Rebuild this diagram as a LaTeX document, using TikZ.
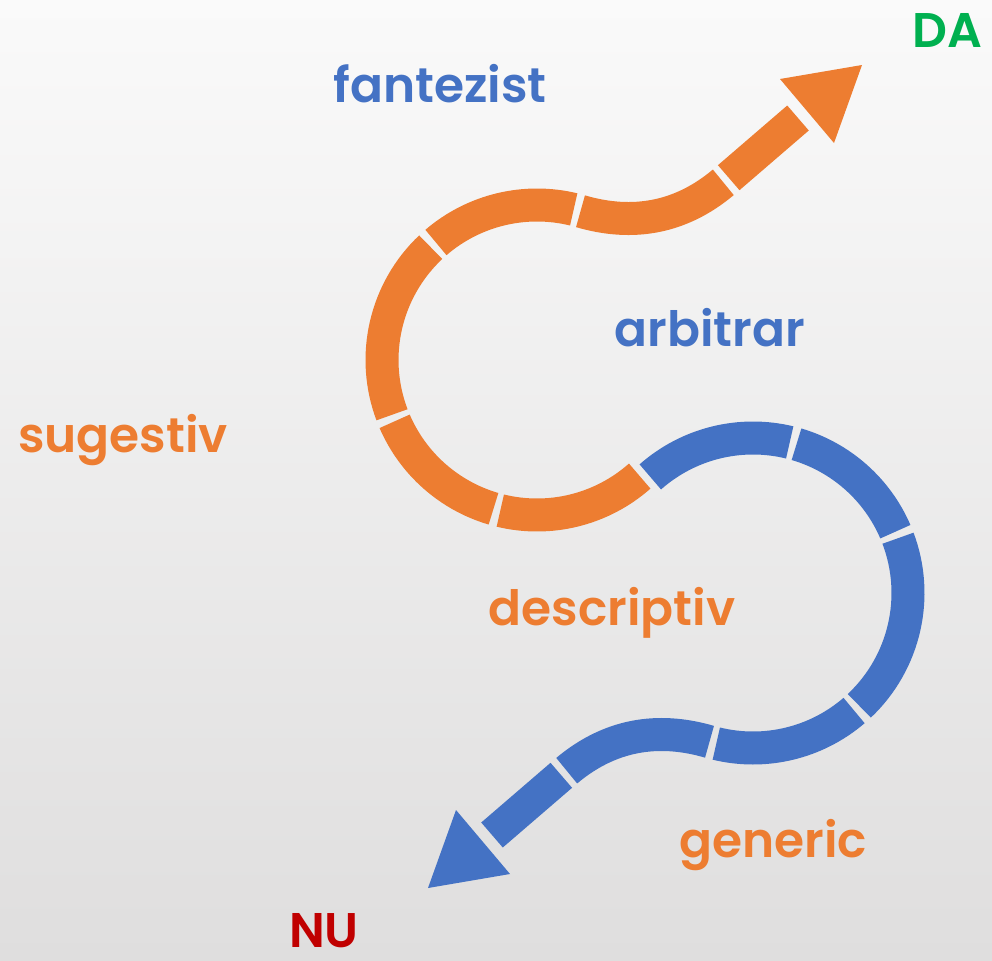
\documentclass[tikz,border=0pt]{standalone}
\usepackage{fontspec}
\setmainfont{Poppins}[BoldFont={Poppins SemiBold}]
\usetikzlibrary{calc}
\definecolor{orng}{RGB}{237,125,49}
\definecolor{blu}{RGB}{68,114,196}
\definecolor{dagreen}{RGB}{0,176,80}
\definecolor{nured}{RGB}{192,0,0}
\definecolor{bgtop}{RGB}{250,250,250}
\definecolor{bgbot}{RGB}{223,222,222}
\tikzset{
	band/.style = {line width=24.75pt, line cap=butt},
	lbl/.style  = {font=\bfseries\fontsize{36.5}{40}\selectfont, anchor=base, inner sep=0pt}
}

\begin{document}
\begin{tikzpicture}[x=0.75pt,y=-0.75pt]
	% ========================== Frame ============================
	\shade[top color=bgtop, bottom color=bgbot] (0,0) rectangle (992,960);
	\useasboundingbox (0,0) rectangle (992,960);

	% ========================== Coordinates ============================
	\coordinate (c1) at (537,360);   % upper loop
	\coordinate (c2) at (753,593);   % lower loop
	% upper arrow
	\coordinate (tipDA) at (862,65);
	\coordinate (baseDA1) at (780,79);
	\coordinate (baseDA2) at (834,143);
	\coordinate (shaftDA1) at (728.7,177.7);
	\coordinate (shaftDA2) at (798,118);
	% lower arrow
	\coordinate (tipNU) at (428,888);
	\coordinate (baseNU1) at (510,874);
	\coordinate (baseNU2) at (456,810);
	\coordinate (shaftNU1) at (561.3,775.3);
	\coordinate (shaftNU2) at (492,835);

	% ========================== Orange band ============================
	\fill[orng] (tipDA) -- (baseDA1) -- (baseDA2) -- cycle;
	\draw[band, orng] (shaftDA1) -- (shaftDA2);
	\draw[band, orng] ($(c1)+(286.3:155)$) .. controls (633.2,226.7) and (681.2,217.7) .. (723.3,182.3);
	\draw[band, orng] ($(c1)+(283.7:155)$) arc[start angle=283.7, end angle=229.3, radius=155];
	\draw[band, orng] ($(c1)+(226.7:155)$) arc[start angle=226.7, end angle=159.3, radius=155];
	\draw[band, orng] ($(c1)+(156.7:155)$) arc[start angle=156.7, end angle=106.3, radius=155];
	\draw[band, orng] ($(c1)+(103.7:155)$) arc[start angle=103.7, end angle=48.5, radius=155];

	% ========================== Blue band ============================
	\draw[band, blu] ($(c2)+(228.5:155)$) arc[start angle=228.5, end angle=283.7, radius=155];
	\draw[band, blu] ($(c2)+(286.3:155)$) arc[start angle=286.3, end angle=336.7, radius=155];
	\draw[band, blu] ($(c2)+(-20.7:155)$) arc[start angle=-20.7, end angle=46.7, radius=155];
	\draw[band, blu] ($(c2)+(49.3:155)$) arc[start angle=49.3, end angle=103.7, radius=155];
	\draw[band, blu] ($(c2)+(106.3:155)$) .. controls (656.8,726.3) and (608.8,735.3) .. (566.7,770.7);
	\draw[band, blu] (shaftNU1) -- (shaftNU2);
	\fill[blu] (tipNU) -- (baseNU1) -- (baseNU2) -- cycle;

	% ========================== Labels ============================
	\node[lbl, text=dagreen] (da) at (947,47) {DA};
	\node[lbl, text=blu] (fantezist) at (440,102) {fantezist};
	\node[lbl, text=blu] (arbitrar) at (710,346) {arbitrar};
	\node[lbl, text=orng] (sugestiv) at (123,452) {sugestiv};
	\node[lbl, text=orng] (descriptiv) at (612,625) {descriptiv};
	\node[lbl, text=orng] (generic) at (773,857) {generic};
	\node[lbl, text=nured] (nu) at (324,947) {NU};
\end{tikzpicture}
\end{document}
